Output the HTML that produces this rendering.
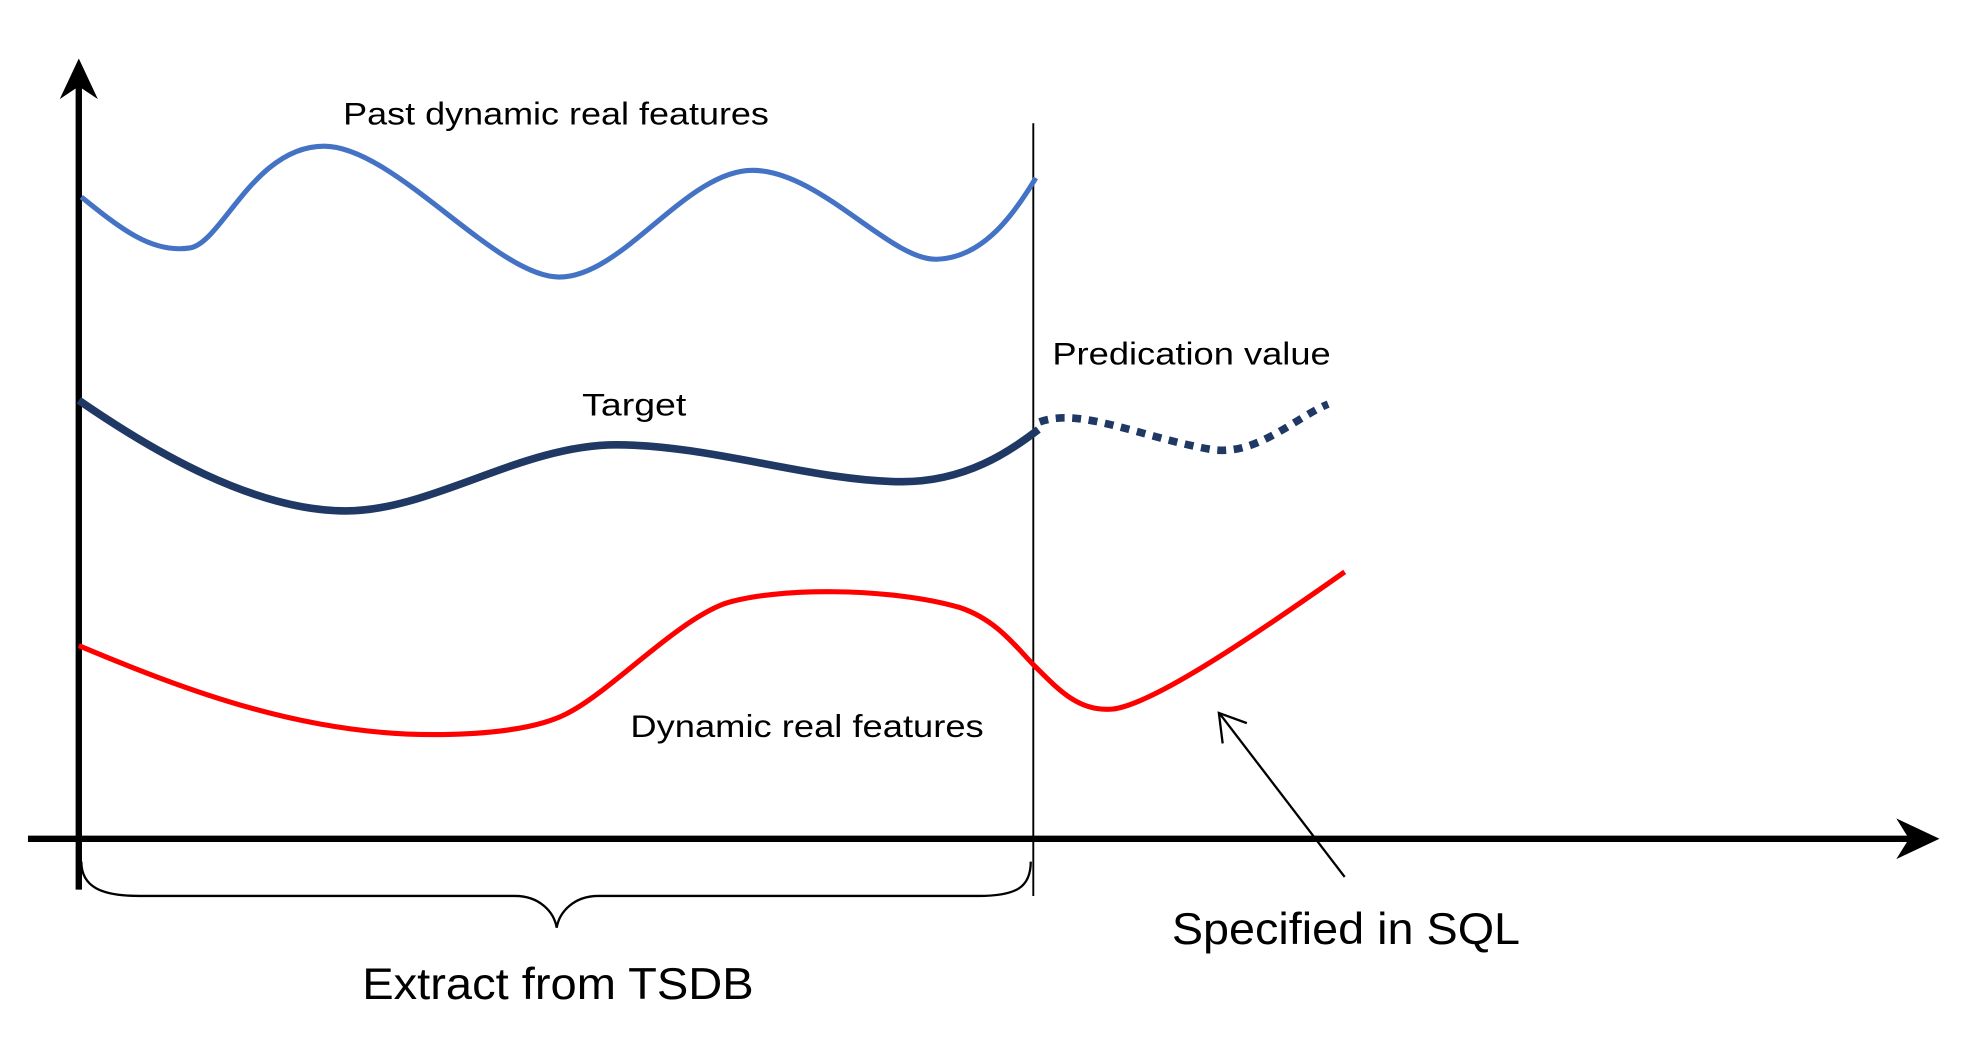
<!DOCTYPE html>
<html><head><style>html,body{margin:0;padding:0;background:#fff;}svg{display:block}</style></head>
<body>
<svg width="1970" height="1051" viewBox="0 0 1550 827" preserveAspectRatio="none" xmlns="http://www.w3.org/2000/svg" font-family="Liberation Sans, sans-serif">
<line x1="62" y1="700" x2="62" y2="60" stroke="#000" stroke-width="5"/>
<path d="M47,78 L62,46 L77,78 L62,68 Z" fill="#000"/>
<line x1="22" y1="660" x2="1510" y2="660" stroke="#000" stroke-width="5"/>
<path d="M1492,644 L1526,660 L1492,676 L1502,660 Z" fill="#000"/>
<line x1="813" y1="97" x2="813" y2="705" stroke="#000" stroke-width="1.5"/>
<path d="M64,155 C95,180 120,200 150,195 C175,190 200,115 255,115 C310,115 390,218 440,218 C490,218 540,134 592,134 C645,134 700,205 737,204 C775,203 800,165 815,140" fill="none" stroke="#4472C4" stroke-width="4"/>
<path d="M62,315 C120,355 200,402 272,402 C340,402 410,350 485,350 C560,350 640,379 710,379 C760,379 795,355 817,338" fill="none" stroke="#1F3864" stroke-width="6"/>
<path d="M818,332 C850,320 900,345 955,354 C990,358 1020,328 1045,318" fill="none" stroke="#1F3864" stroke-width="6" stroke-dasharray="7,6"/>
<path d="M62,508 C150,545 240,578 340,578 C390,578 425,572 445,562 C480,545 530,490 570,475 C610,462 700,462 755,478 C785,488 800,510 815,525 C835,545 850,560 875,558 C905,555 980,505 1058,450" fill="none" stroke="#FF0000" stroke-width="4"/>
<line x1="1058" y1="690" x2="960" y2="562" stroke="#000" stroke-width="1.8"/>
<path d="M962,585 L959,561 L981,569" fill="none" stroke="#000" stroke-width="1.8"/>
<path d="M64,678 C64,698 80,705 110,705 L405,705 C425,705 436,718 438,730 C440,718 451,705 471,705 L770,705 C800,705 811,698 811,678" fill="none" stroke="#000" stroke-width="1.8"/>
<text x="270" y="98" font-size="25" textLength="335" lengthAdjust="spacingAndGlyphs">Past dynamic real features</text>
<text x="828" y="287" font-size="25" textLength="219" lengthAdjust="spacingAndGlyphs">Predication value</text>
<text x="458" y="327" font-size="25" textLength="82" lengthAdjust="spacingAndGlyphs">Target</text>
<text x="496" y="580" font-size="25" textLength="278" lengthAdjust="spacingAndGlyphs">Dynamic real features</text>
<text x="922" y="743" font-size="35" textLength="274" lengthAdjust="spacingAndGlyphs">Specified in SQL</text>
<text x="285" y="786" font-size="35" textLength="308" lengthAdjust="spacingAndGlyphs">Extract from TSDB</text>
</svg>
</body></html>
